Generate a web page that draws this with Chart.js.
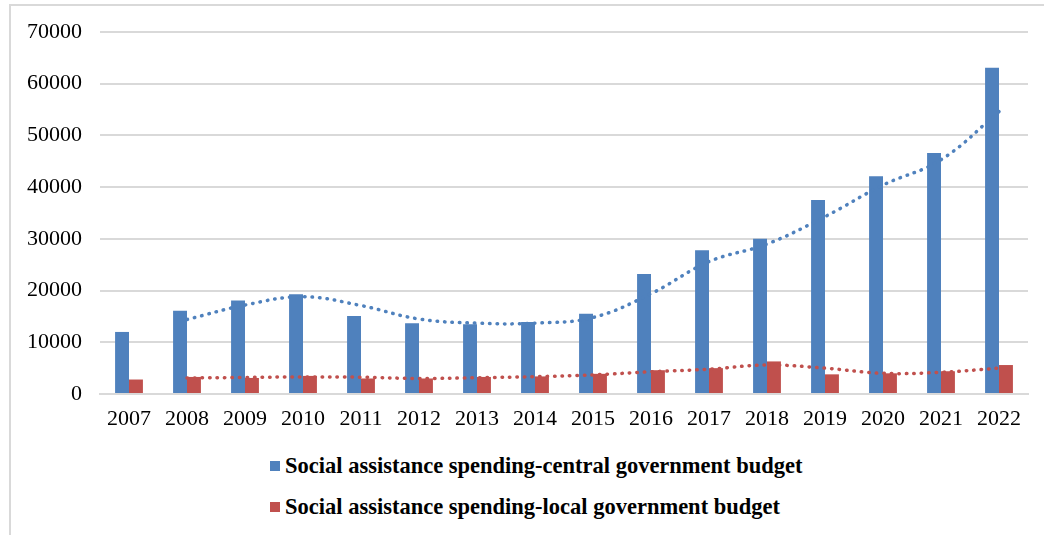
<!DOCTYPE html>
<html>
<head>
<meta charset="utf-8">
<script src="https://cdn.jsdelivr.net/npm/chart.js@4.4.1/dist/chart.umd.min.js"></script>
<style>
  body { margin: 0; background: #fff; width: 1044px; height: 535px; overflow: hidden; position: relative; }
  #frame { position: absolute; left: 9px; top: 4px; width: 1100px; height: 600px;
           border-left: 2px solid #d9d9d9; border-top: 2px solid #d9d9d9; }
  #wrap { position: absolute; left: 0; top: 0; width: 1044px; height: 440px; }
  #legend { position: absolute; left: 270px; top: 452px; font-family: "Liberation Serif", "Times New Roman", serif;
            font-weight: bold; font-size: 22.5px; color: #000; }
  .item { display: flex; align-items: center; height: 28px; margin-bottom: 13px; }
  .box { width: 10px; height: 10px; margin-right: 5px; }
</style>
</head>
<body>
<div id="frame"></div>
<div id="wrap"><canvas id="chart"></canvas></div>
<div id="legend"></div>
<script>
const years = ["2007", "2008", "2009", "2010", "2011", "2012", "2013", "2014",
               "2015", "2016", "2017", "2018", "2019", "2020", "2021", "2022"];

const centralLabel = "Social assistance spending-central government budget";
const localLabel = "Social assistance spending-local government budget";

const centralSpending = [12000, 16100, 18100, 19300, 15100, 13700, 13500, 13900,
                         15500, 23200, 27800, 30000, 37500, 42100, 46600, 63100];
const localSpending = [2800, 3300, 3100, 3500, 3000, 3000, 3300, 3400,
                       3900, 4600, 5000, 6300, 3800, 4000, 4400, 5600];

// dotted trend lines
const centralTrend = [null, 14400, 17200, 18800, 17100, 14500, 13700, 13700,
                      14800, 19400, 25600, 29000, 34300, 40400, 45300, 54600];
const localTrend = [null, 3100, 3200, 3300, 3250, 3000, 3150, 3350,
                    3700, 4300, 4800, 5600, 5000, 4000, 4200, 5000];

const blue = "#4f81bd";
const red = "#c0504d";
const serif = "'Liberation Serif', 'Times New Roman', serif";

function trendLine(data, color) {
  return {
    type: "line",
    data: data,
    borderColor: color,
    borderWidth: 3.5,
    borderDash: [0.5, 7],
    borderCapStyle: "round",
    pointRadius: 0,
    tension: 0.4,
    fill: false,
    order: 0
  };
}

const chart = new Chart(document.getElementById("chart"), {
  type: "bar",
  data: {
    labels: years,
    datasets: [
      { label: centralLabel, data: centralSpending, backgroundColor: blue, order: 1 },
      { label: localLabel, data: localSpending, backgroundColor: red, order: 1 },
      trendLine(centralTrend, blue),
      trendLine(localTrend, red)
    ]
  },
  options: {
    responsive: true,
    maintainAspectRatio: false,
    animation: false,
    layout: { padding: { left: 0, right: 16, top: 32, bottom: 0 } },
    datasets: { bar: { barPercentage: 1, categoryPercentage: 0.48 } },
    plugins: { legend: { display: false }, tooltip: { enabled: false } },
    scales: {
      x: {
        grid: { display: false, drawTicks: false },
        border: { color: "#d9d9d9", width: 2 },
        ticks: { color: "#000", font: { family: serif, size: 22 }, padding: 12, maxRotation: 0 },
        afterFit: s => { s.height = 46; }
      },
      y: {
        min: 0,
        max: 70000,
        grid: { color: "#d9d9d9", lineWidth: 2, drawTicks: false },
        border: { display: false },
        ticks: { stepSize: 10000, color: "#000", font: { family: serif, size: 22 }, padding: 18,
                 callback: v => String(v) },
        afterFit: s => { s.width = 100; }
      }
    }
  }
});

const legend = document.getElementById("legend");
chart.data.datasets.filter(d => d.label).forEach(d => {
  const row = document.createElement("div");
  row.className = "item";
  row.innerHTML = `<span class="box" style="background:${d.backgroundColor}"></span><span>${d.label}</span>`;
  legend.appendChild(row);
});
</script>
</body>
</html>
